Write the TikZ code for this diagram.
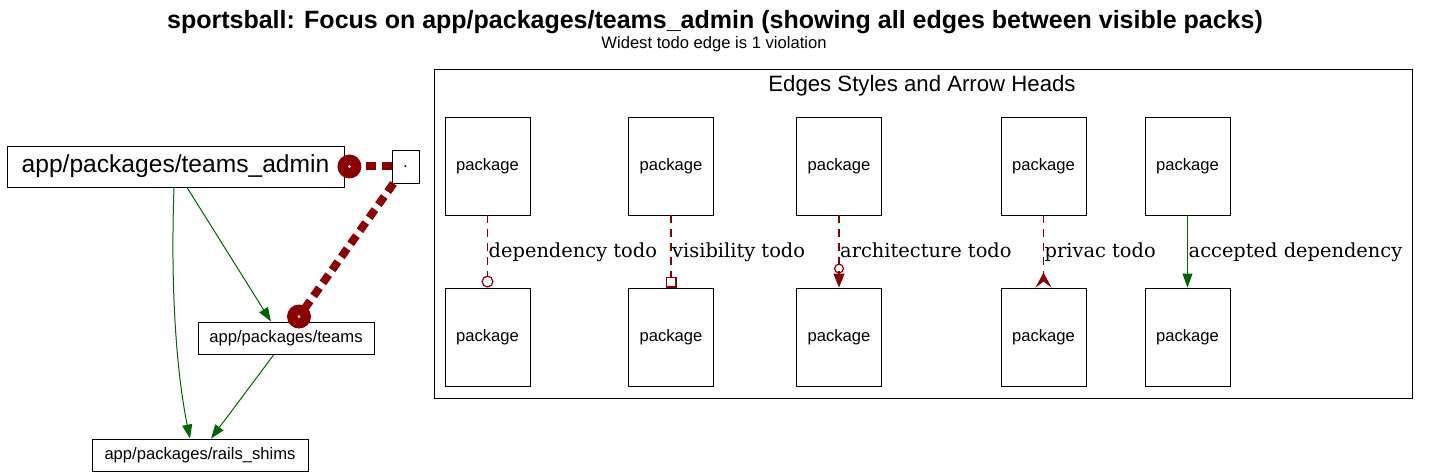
\documentclass[tikz,border=0pt]{standalone}
\usepackage{fontspec}
\setmainfont{Liberation Sans}
\newfontfamily\labelfont{DejaVu Serif}
\usetikzlibrary{arrows.meta}

\definecolor{todored}{HTML}{8B0000}
\definecolor{okgreen}{HTML}{006400}

\tikzset{
  pkgbox/.style={draw, fill=white, inner sep=0pt, line width=0.9pt, font=\fontsize{16.6}{19}\selectfont},
  legendbox/.style={pkgbox, minimum width=85pt, minimum height=98pt},
  okedge/.style={okgreen, line width=1pt, -{Triangle[length=14pt,width=10pt]}},
  todoedge/.style={draw=todored, line width=1.2pt, dash pattern=on 8pt off 6pt},
  todoheavy/.style={todored, line width=8pt, dash pattern=on 10pt off 6pt},
  tododot/.style={circle, fill=todored, minimum size=24pt, inner sep=0pt,
    path picture={\fill[white] (path picture bounding box.center) circle (1.5pt);}},
  edgelabel/.style={anchor=base west, inner sep=1pt, text=black, font=\labelfont\fontsize{19.4}{23}\selectfont},
}

\begin{document}
\begin{tikzpicture}[x=1pt, y=-1pt]
  \useasboundingbox (0,0) rectangle (1430,476);

  % Title
  \node[font=\bfseries\fontsize{25}{29}\selectfont] (title) at (715,22)
    {sportsball: Focus on app/packages/teams\_admin (showing all edges between visible packs)};
  \node[font=\fontsize{16.6}{19}\selectfont] (subtitle) at (714,44) {Widest todo edge is 1 violation};

  % Packages
  \node[pkgbox, minimum width=337pt, minimum height=41pt, font=\fontsize{24.6}{28}\selectfont] (admin) at (175.5,166.5) {app/packages/teams\_admin};
  \node[pkgbox, minimum width=27pt, minimum height=33pt] (dotpkg) at (405.5,166.5) {.};
  \node[pkgbox, minimum width=176pt, minimum height=32pt] (teams) at (286,338) {app/packages/teams};
  \node[pkgbox, minimum width=216pt, minimum height=32pt] (shims) at (200,455) {app/packages/rails\_shims};

  % Accepted dependencies
  \draw[okedge] ([xshift=11.5pt]admin.south) -- ([xshift=-15pt]teams.north);
  \draw[okedge] ([xshift=-1.5pt]admin.south) .. controls (170,300) and (178,380) .. ([xshift=-10pt]shims.north);
  \draw[okedge] ([xshift=-12pt]teams.south) -- ([xshift=11pt]shims.north);

  % Todo edges
  \draw[todoheavy] (dotpkg) -- ([xshift=5pt]admin.east) node[tododot] (admindot) {};
  \draw[todoheavy] (dotpkg) -- ([xshift=13pt,yshift=5pt]teams.north) node[tododot] (teamsdot) {};

  % Legend
  \node[draw, line width=0.9pt, minimum width=978pt, minimum height=329pt, inner sep=0pt] (legend) at (923,233.5) {};
  \node[font=\fontsize{22.2}{26}\selectfont] (legendtitle) at (922,86) {Edges Styles and Arrow Heads};

  \node[legendbox] (top1) at (487.5,166) {package};
  \node[legendbox] (top2) at (671,166) {package};
  \node[legendbox] (top3) at (839,166) {package};
  \node[legendbox] (top4) at (1043.5,166) {package};
  \node[legendbox] (top5) at (1187.5,166) {package};
  \node[legendbox] (bot1) at (487.5,337) {package};
  \node[legendbox] (bot2) at (671,337) {package};
  \node[legendbox] (bot3) at (839,337) {package};
  \node[legendbox] (bot4) at (1043.5,337) {package};
  \node[legendbox] (bot5) at (1187.5,337) {package};

  \draw[todoedge, -{Circle[open, length=12pt, width=12pt]}] (top1) -- (bot1);
  \draw[todoedge, -{Square[open, length=11pt, width=11pt]}] (top2) -- (bot2);
  \draw[todoedge, -{Circle[open, length=10pt, width=10pt] Triangle[length=14pt, width=11pt]}] (top3) -- (bot3);
  \draw[todoedge, -{Stealth[reversed, length=15pt, width=16pt, inset=6pt]}] (top4) -- (bot4);
  \draw[okedge] (top5) -- (bot5);

  % Edge labels
  \node[edgelabel] (lbl1) at (top1.south |- 0,257) {dependency todo};
  \node[edgelabel] (lbl2) at (top2.south |- 0,257) {visibility todo};
  \node[edgelabel] (lbl3) at (top3.south |- 0,257) {architecture todo};
  \node[edgelabel] (lbl4) at (top4.south |- 0,257) {privac todo};
  \node[edgelabel] (lbl5) at (top5.south |- 0,257) {accepted dependency};
\end{tikzpicture}
\end{document}
